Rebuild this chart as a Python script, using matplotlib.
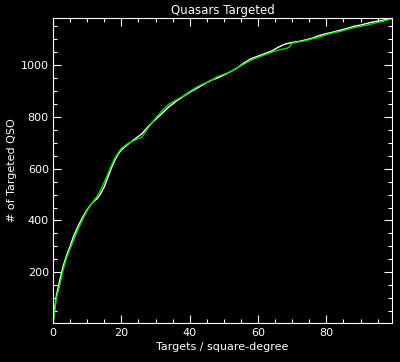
import matplotlib
matplotlib.use("Agg")
import matplotlib.pyplot as plt
from matplotlib.ticker import MultipleLocator

x = [0, 0.5, 1, 2, 3, 4, 5, 6, 7, 8, 9, 10, 11, 12, 13, 14, 15, 16, 17, 18, 19, 20,
     22, 24, 26, 28, 30, 32, 34, 36, 38, 40, 42, 44, 46, 48, 50, 52, 54, 56, 58, 60,
     62, 64, 66, 68, 69, 70, 72, 74, 76, 78, 80, 82, 84, 86, 88, 90, 92, 94, 96, 98, 99]
white = [5, 60, 110, 170, 225, 265, 300, 338, 368, 395, 420, 442, 460, 475, 485, 505, 530, 565, 600, 630, 655, 672,
         695, 715, 735, 765, 790, 815, 840, 860, 878, 895, 910, 925, 940, 950, 962, 975, 990, 1010, 1025, 1035,
         1045, 1055, 1070, 1082, 1085, 1088, 1092, 1098, 1105, 1115, 1122, 1128, 1135, 1142, 1150, 1155, 1162, 1168, 1172, 1178, 1180]
green = [5, 50, 100, 150, 210, 255, 290, 322, 355, 385, 412, 438, 458, 478, 495, 520, 548, 578, 610, 638, 660, 678,
         698, 710, 722, 760, 795, 825, 850, 865, 880, 898, 915, 928, 938, 955, 965, 975, 990, 1005, 1020, 1030,
         1040, 1050, 1058, 1064, 1068, 1085, 1090, 1095, 1102, 1108, 1118, 1125, 1130, 1138, 1145, 1150, 1155, 1162, 1168, 1175, 1180]

fig = plt.figure(figsize=(4, 3.62), dpi=100, facecolor="black")
ax = fig.add_axes([0.1325, 0.108, 0.8475, 0.842], facecolor="black")
ax.plot(x, white, color="white", lw=1)
ax.plot(x, green, color="#00dd00", lw=1)
ax.set_xlim(0, 99.2)
ax.set_ylim(4, 1182)
ax.xaxis.set_major_locator(MultipleLocator(20))
ax.xaxis.set_minor_locator(MultipleLocator(5))
ax.yaxis.set_major_locator(MultipleLocator(200))
ax.yaxis.set_minor_locator(MultipleLocator(50))
ax.set_yticks([200, 400, 600, 800, 1000])
for s in ax.spines.values():
    s.set_color("white")
ax.tick_params(which="both", direction="in", colors="white", top=True, right=True, labelsize=8, width=0.8)
ax.tick_params(which="major", length=6)
ax.tick_params(which="minor", length=3)
ax.tick_params(axis="y", pad=3)
ax.set_title("Quasars Targeted", color="white", fontsize=8.5, pad=3)
ax.set_xlabel("Targets / square-degree", color="white", fontsize=8, labelpad=3)
ax.set_ylabel("# of Targeted QSO", color="white", fontsize=8, labelpad=3)
fig.savefig("out.png", dpi=100, facecolor="black")
